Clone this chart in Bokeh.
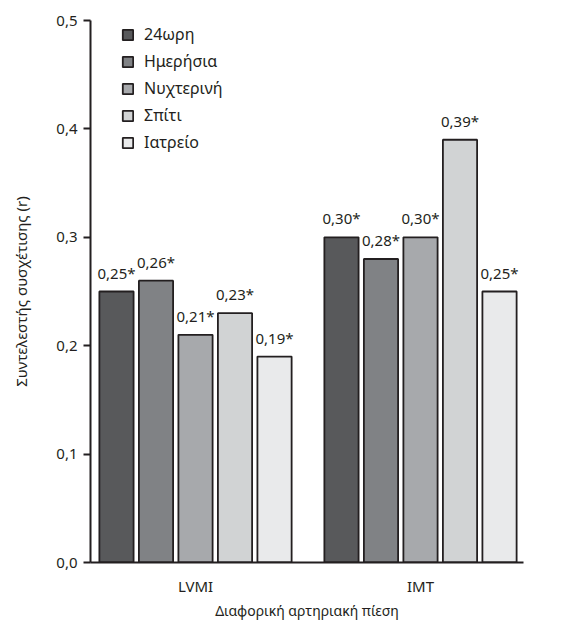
import numpy as np
from bokeh.plotting import figure
from bokeh.models import ColumnDataSource, FixedTicker, Legend, LegendItem, Range1d, Title
from bokeh.core.properties import value
from bokeh.embed import file_html
from bokeh.resources import INLINE

groups = ["LVMI", "IMT"]
series = ["24ωρη", "Ημερήσια", "Νυχτερινή", "Σπίτι", "Ιατρείο"]
lvmi = [0.25, 0.26, 0.21, 0.23, 0.19]
imt = [0.30, 0.28, 0.30, 0.39, 0.25]
colors = ["#58595b", "#808285", "#a7a9ac", "#d1d3d4", "#e9eaeb"]
y_ticks = [0.0, 0.1, 0.2, 0.3, 0.4, 0.5]
x_title = "Διαφορική αρτηριακή πίεση"
y_title = "Συντελεστής συσχέτισης (r)"

FONT = "Noto Sans"
TXT = "#231f20"

p = figure(width=572, height=622, output_backend="svg", toolbar_location=None,
           x_range=Range1d(-0.4667, 1.4578), y_range=Range1d(0, 0.5),
           min_border_left=90, min_border_top=20, min_border_right=49, min_border_bottom=60)
p.outline_line_color = None
p.xgrid.visible = False
p.ygrid.visible = False

step = 0.1756
width = 0.152
items = []
for i, name in enumerate(series):
    vals = [lvmi[i], imt[i]]
    xs = [g + (i - 2) * step for g in range(len(groups))]
    src = ColumnDataSource(dict(x=xs, top=vals,
                                lab=[f"{v:.2f}".replace(".", ",") + "*" for v in vals]))
    r = p.vbar(x="x", top="top", width=width, bottom=0, source=src,
               fill_color=colors[i], line_color=TXT, line_width=1.8)
    p.text(x="x", y="top", text="lab", source=src, text_align="center",
           text_baseline="bottom", y_offset=-9, text_font=value(FONT),
           text_font_size="15px", text_color=TXT)
    items.append(LegendItem(label=name, renderers=[r]))

legend = Legend(items=items, location=(31, 409), padding=0, margin=0, spacing=5,
                label_height=20, glyph_height=13, glyph_width=13, label_standoff=10,
                border_line_color=None, background_fill_alpha=0,
                label_text_font=FONT, label_text_font_size="16px", label_text_color=TXT)
p.add_layout(legend)

# y axis
p.yaxis.ticker = FixedTicker(ticks=y_ticks)
p.yaxis.major_label_overrides = {t: f"{t:.1f}".replace(".", ",") for t in y_ticks}
p.yaxis.minor_tick_line_color = None
p.yaxis.major_tick_in = 0
p.yaxis.major_tick_out = 7
p.yaxis.major_tick_line_width = 2
p.yaxis.axis_line_width = 2
p.yaxis.axis_line_color = TXT
p.yaxis.major_tick_line_color = TXT
p.yaxis.major_label_standoff = 6
p.yaxis.major_label_text_font = FONT
p.yaxis.major_label_text_font_size = "15px"
p.yaxis.major_label_text_color = TXT
p.yaxis.axis_label = y_title
p.yaxis.axis_label_text_font = FONT
p.yaxis.axis_label_text_font_size = "15px"
p.yaxis.axis_label_text_font_style = "normal"
p.yaxis.axis_label_text_color = TXT
p.yaxis.axis_label_standoff = 22

# x axis
p.xaxis.ticker = FixedTicker(ticks=list(range(len(groups))))
p.xaxis.major_label_overrides = {i: g for i, g in enumerate(groups)}
p.xaxis.minor_tick_line_color = None
p.xaxis.major_tick_line_color = None
p.xaxis.major_tick_in = 0
p.xaxis.major_tick_out = 0
p.xaxis.axis_line_width = 2
p.xaxis.axis_line_color = TXT
p.xaxis.major_label_standoff = 13
p.xaxis.major_label_text_font = FONT
p.xaxis.major_label_text_font_size = "15px"
p.xaxis.major_label_text_color = TXT

xt = Title(text=x_title, align="center", text_font=FONT, text_font_size="14px",
           text_font_style="normal", text_color=TXT, standoff=0, offset=0)
p.add_layout(xt, "below")

open("out.html", "w").write(file_html(p, INLINE))
